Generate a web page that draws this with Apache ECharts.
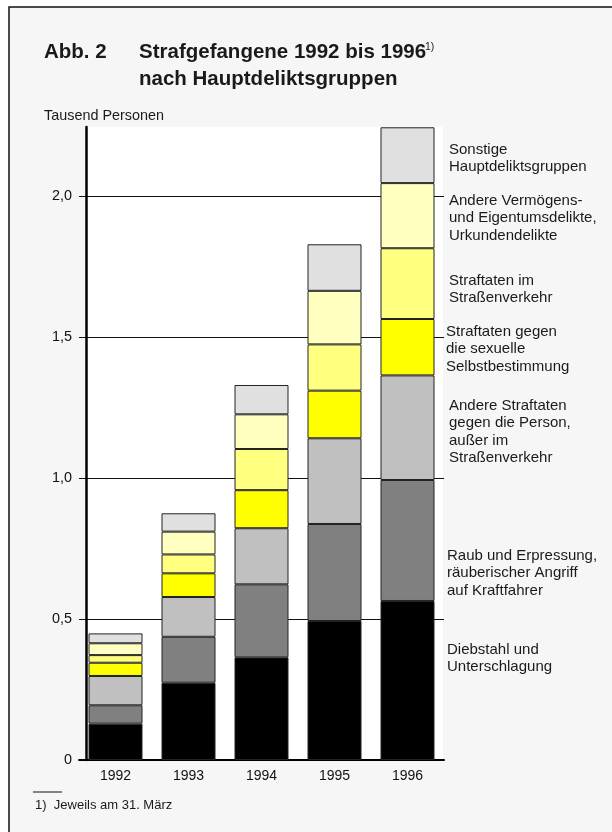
<!DOCTYPE html>
<html>
<head>
<meta charset="utf-8">
<script src="https://cdn.jsdelivr.net/npm/echarts@6/dist/echarts.min.js"></script>
<style>
html,body{margin:0;padding:0;background:#fff;overflow:hidden;}
#c{width:612px;height:832px;}
</style>
</head>
<body>
<div id="c"></div>
<script>
// ---- data (Tausend Personen) ----
const years = ['1992', '1993', '1994', '1995', '1996'];
const seriesNames = [
  'Diebstahl und Unterschlagung',
  'Raub und Erpressung, räuberischer Angriff auf Kraftfahrer',
  'Andere Straftaten gegen die Person, außer im Straßenverkehr',
  'Straftaten gegen die sexuelle Selbstbestimmung',
  'Straftaten im Straßenverkehr',
  'Andere Vermögens- und Eigentumsdelikte, Urkundendelikte',
  'Sonstige Hauptdeliktsgruppen'
];
const diebstahl   = [0.129, 0.274, 0.364, 0.493, 0.564];
const raub        = [0.065, 0.163, 0.259, 0.344, 0.429];
const person      = [0.104, 0.141, 0.199, 0.304, 0.371];
const sexuell     = [0.047, 0.084, 0.135, 0.169, 0.200];
const verkehr     = [0.027, 0.067, 0.146, 0.164, 0.251];
const vermoegen   = [0.042, 0.081, 0.123, 0.190, 0.231];
const sonstige    = [0.035, 0.065, 0.104, 0.165, 0.198];
const seriesData = [diebstahl, raub, person, sexuell, verkehr, vermoegen, sonstige];
const yTicks = [0, 0.5, 1.0, 1.5, 2.0];
const legendLines = [
  ['Diebstahl und', 'Unterschlagung'],
  ['Raub und Erpressung,', 'räuberischer Angriff', 'auf Kraftfahrer'],
  ['Andere Straftaten', 'gegen die Person,', 'außer im', 'Straßenverkehr'],
  ['Straftaten gegen', 'die sexuelle', 'Selbstbestimmung'],
  ['Straftaten im', 'Straßenverkehr'],
  ['Andere Vermögens-', 'und Eigentumsdelikte,', 'Urkundendelikte'],
  ['Sonstige', 'Hauptdeliktsgruppen']
];
const titleLabel = 'Abb. 2';
const titleLine1 = 'Strafgefangene 1992 bis 1996';
const titleNote = '1)';
const titleLine2 = 'nach Hauptdeliktsgruppen';
const unitLabel = 'Tausend Personen';
const footnote = '1)  Jeweils am 31. März';

// ---- styles ----
const colors = ['#000000', '#808080', '#c0c0c0', '#ffff00', '#ffff80', '#ffffc0', '#e0e0e0'];
const legendPos = [[447, 641], [447, 547], [449, 397], [446, 323], [449, 272], [449, 192], [449, 141]];
const FONT = '"Liberation Sans", Arial, sans-serif';

const chart = echarts.init(document.getElementById('c'), null, {renderer: 'canvas'});

const graphics = [
  {type: 'rect', z: -100, silent: true, shape: {x: 9, y: 7, width: 640, height: 860},
   style: {fill: '#f6f6f6', stroke: '#111', lineWidth: 1.5}},
  {type: 'text', x: 44, y: 52, style: {text: titleLabel, font: 'bold 20.5px ' + FONT, fill: '#1a1a1a', verticalAlign: 'middle'}},
  {type: 'text', x: 139, y: 52, style: {text: titleLine1, font: 'bold 20.5px ' + FONT, fill: '#1a1a1a', verticalAlign: 'middle'}},
  {type: 'text', x: 425, y: 47, style: {text: titleNote, font: '10.5px ' + FONT, fill: '#1a1a1a', verticalAlign: 'middle'}},
  {type: 'text', x: 139, y: 79, style: {text: titleLine2, font: 'bold 20.5px ' + FONT, fill: '#1a1a1a', verticalAlign: 'middle'}},
  {type: 'text', x: 44, y: 116, style: {text: unitLabel, font: '14.4px ' + FONT, fill: '#1a1a1a', verticalAlign: 'middle'}},
  {type: 'line', shape: {x1: 33, y1: 792, x2: 62, y2: 792}, style: {stroke: '#111', lineWidth: 1}},
  {type: 'text', x: 35, y: 805, style: {text: footnote, font: '13px ' + FONT, fill: '#1a1a1a', verticalAlign: 'middle'}}
];
legendLines.forEach((lines, i) => {
  graphics.push({type: 'text', x: legendPos[i][0], y: legendPos[i][1],
    style: {text: lines.join('\n'), font: '15px ' + FONT, fill: '#1a1a1a', lineHeight: 17.5, verticalAlign: 'top'}});
});

const option = {
  animation: false,
  backgroundColor: '#ffffff',
  textStyle: {fontFamily: FONT},
  graphic: graphics,
  grid: [
    {left: 79, top: 127, width: 365, height: 633, show: false, containLabel: false},
    {left: 86, top: 127, width: 357, height: 633, show: true, backgroundColor: '#ffffff', borderWidth: 0, z: -50}
  ],
  xAxis: [
    {type: 'category', gridIndex: 0, data: years,
     axisLine: {show: true, lineStyle: {color: '#000', width: 2}},
     axisTick: {show: false},
     axisLabel: {color: '#111', fontSize: 14, margin: 9, fontFamily: FONT}},
    {type: 'category', gridIndex: 1, data: years, show: false}
  ],
  yAxis: [
    {type: 'value', gridIndex: 0, min: 0, max: 2.245, interval: 0.5, offset: -7, z: 1,
     axisLine: {show: true, lineStyle: {color: '#000', width: 2.5}},
     axisTick: {show: false},
     splitLine: {show: true, showMinLine: false, showMaxLine: false, lineStyle: {color: '#111', width: 1}},
     axisLabel: {color: '#111', fontSize: 14.4, margin: 14, fontFamily: FONT,
       customValues: yTicks,
       formatter: v => (v === 0 ? '0' : v.toFixed(1).replace('.', ','))}},
    {type: 'value', gridIndex: 1, show: false, min: 0, max: 1, splitLine: {show: false}}
  ],
  series: seriesData.map((d, i) => ({
    name: seriesNames[i], type: 'bar', stack: 'total', xAxisIndex: 0, yAxisIndex: 0,
    data: d, barWidth: 54, z: 3,
    itemStyle: {color: colors[i], borderColor: '#222', borderWidth: 1}
  }))
};
chart.setOption(option);
</script>
</body>
</html>
